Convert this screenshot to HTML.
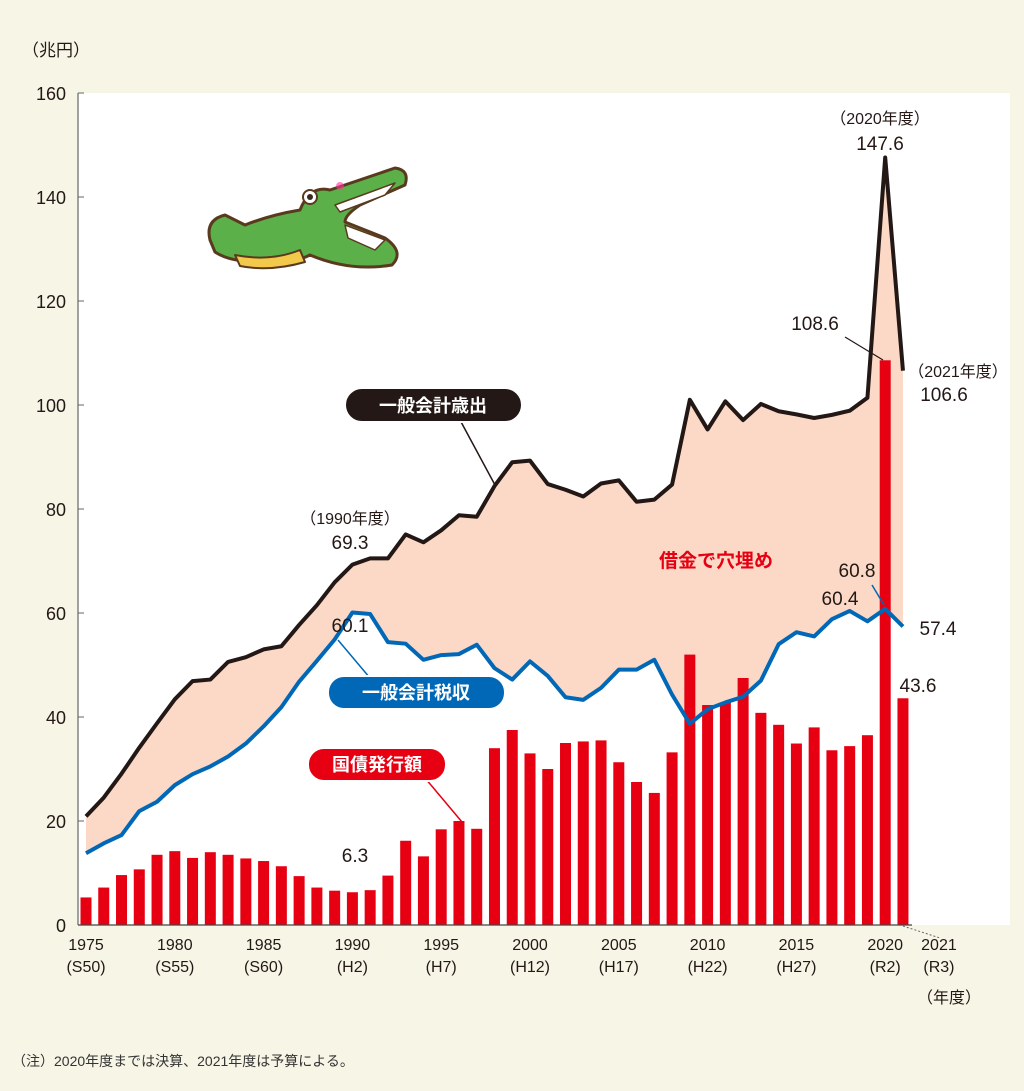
<!DOCTYPE html>
<html><head><meta charset="utf-8"><style>
body{margin:0;background:#f6f5e6;}
svg text{font-family:"Liberation Sans","Noto Sans CJK JP",sans-serif;}
</style></head><body>
<svg id="c" width="1024" height="1086" viewBox="0 0 1024 1086" xmlns="http://www.w3.org/2000/svg">
<rect x="0" y="0" width="1024" height="1086" fill="#f6f5e6"/>
<rect x="78" y="93" width="932" height="832" fill="#ffffff"/>
<g id="g"></g>
</svg>
<script>
const years=[];for(let y=1975;y<=2021;y++)years.push(y);
const spending=[20.9,24.5,29.1,34.1,38.8,43.4,46.9,47.2,50.6,51.5,53.0,53.6,57.7,61.5,65.9,69.3,70.5,70.5,75.1,73.6,75.9,78.8,78.5,84.4,89.0,89.3,84.8,83.7,82.4,84.9,85.5,81.4,81.8,84.7,101.0,95.3,100.7,97.1,100.2,98.8,98.2,97.5,98.1,98.9,101.4,147.6,106.6];
const taxes=[13.8,15.7,17.3,21.9,23.7,26.9,29.0,30.5,32.4,34.9,38.2,41.9,46.8,50.8,54.9,60.1,59.8,54.4,54.1,51.0,51.9,52.1,53.9,49.4,47.2,50.7,47.9,43.8,43.3,45.6,49.1,49.1,51.0,44.3,38.7,41.5,42.8,43.9,47.0,54.0,56.3,55.5,58.8,60.4,58.4,60.8,57.4];
const bonds=[5.3,7.2,9.6,10.7,13.5,14.2,12.9,14.0,13.5,12.8,12.3,11.3,9.4,7.2,6.6,6.3,6.7,9.5,16.2,13.2,18.4,20.0,18.5,34.0,37.5,33.0,30.0,35.0,35.3,35.5,31.3,27.5,25.4,33.2,52.0,42.3,42.8,47.5,40.8,38.5,34.9,38.0,33.6,34.4,36.5,108.6,43.6];
const yTicks=[0,20,40,60,80,100,120,140,160];
const xTickYears=[1975,1980,1985,1990,1995,2000,2005,2010,2015,2020,2021];
const xTickEra=["(S50)","(S55)","(S60)","(H2)","(H7)","(H12)","(H17)","(H22)","(H27)","(R2)","(R3)"];
const X=y=>86+(y-1975)*17.76;
const Y=v=>925-v*5.2;
const g=document.getElementById('g');
const NS="http://www.w3.org/2000/svg";
function mk(t,a,txt){const e=document.createElementNS(NS,t);for(const k in a)e.setAttribute(k,a[k]);if(txt!==undefined)e.textContent=txt;g.appendChild(e);return e;}
let d="";years.forEach((y,i)=>d+=(i?"L":"M")+X(y)+","+Y(spending[i]));
for(let i=years.length-1;i>=0;i--)d+="L"+X(years[i])+","+Y(taxes[i]);
let e=mk('path',{d:d+"Z",fill:"#fbd9c6"});


yTicks.forEach(v=>{let t=mk('text',{x:66,y:Y(v)+7,'text-anchor':'end','font-size':18,fill:'#231815'},String(v));


let l=mk('line',{x1:78,x2:84,y1:Y(v),y2:Y(v),stroke:'#666','stroke-width':1});

});
e=mk('line',{x1:78,x2:78,y1:93,y2:925,stroke:'#666','stroke-width':1.2});


years.forEach((y,i)=>{let b=mk('rect',{x:X(y)-5.5,y:Y(bonds[i]),width:11,height:bonds[i]*5.2,fill:'#e60012'});

});
e=mk('line',{x1:78,x2:912,y1:925,y2:925,stroke:'#444','stroke-width':1.2});


function line(arr,col,name){let p="";years.forEach((y,i)=>p+=(i?"L":"M")+X(y)+","+Y(arr[i]));
let l=mk('path',{d:p,fill:'none',stroke:col,'stroke-width':4,'stroke-linejoin':'round'});

}
line(spending,'#231815','spending-line');
line(taxes,'#0068b7','tax-line');
xTickYears.forEach((y,i)=>{let xx=X(y)+(y===2021?36:0);
let t=mk('text',{x:xx,y:950,'text-anchor':'middle','font-size':16,fill:'#231815'},String(y));


let t2=mk('text',{x:xx,y:972,'text-anchor':'middle','font-size':16,fill:'#231815'},xTickEra[i]);

});
e=mk('path',{d:"M"+X(2021)+",926 L940,938",stroke:'#666','stroke-dasharray':'2,2',fill:'none'});


</script>
<svg width="1024" height="1086" viewBox="0 0 1024 1086" style="position:absolute;left:0;top:0" xmlns="http://www.w3.org/2000/svg">
<g font-family="Liberation Sans,Noto Sans CJK JP,sans-serif" fill="#231815">
<text x="22" y="56" font-size="17">（兆円）</text>
<text x="917" y="1003" font-size="16">（年度）</text>
<text x="12" y="1066" font-size="14" fill="#333">（注）2020年度までは決算、2021年度は予算による。</text>
<text x="880" y="124" font-size="16" text-anchor="middle">（2020年度）</text>
<text x="880" y="150" font-size="19" text-anchor="middle">147.6</text>
<text x="958" y="377" font-size="16" text-anchor="middle">（2021年度）</text>
<text x="944" y="401" font-size="19" text-anchor="middle">106.6</text>
<text x="815" y="330" font-size="19" text-anchor="middle">108.6</text>
<line x1="845" y1="337" x2="883" y2="360" stroke="#231815" stroke-width="1.2"/>
<text x="350" y="524" font-size="16" text-anchor="middle">（1990年度）</text>
<text x="350" y="549" font-size="19" text-anchor="middle">69.3</text>
<text x="350" y="632" font-size="19" text-anchor="middle">60.1</text>
<text x="857" y="577" font-size="19" text-anchor="middle">60.8</text>
<line x1="872" y1="585" x2="884" y2="605" stroke="#0068b7" stroke-width="1.5"/>
<text x="840" y="605" font-size="19" text-anchor="middle">60.4</text>
<text x="938" y="635" font-size="19" text-anchor="middle">57.4</text>
<text x="918" y="692" font-size="19" text-anchor="middle">43.6</text>
<text x="355" y="862" font-size="19" text-anchor="middle">6.3</text>
<text x="716" y="567" font-size="19" font-weight="bold" fill="#e60012" text-anchor="middle">借金で穴埋め</text>
<line x1="460" y1="420" x2="495" y2="485" stroke="#231815" stroke-width="1.5"/>
<rect x="345" y="388" width="177" height="34" rx="17" fill="#231815" stroke="#fff" stroke-width="2"/>
<text x="433" y="412" font-size="18" font-weight="bold" fill="#fff" text-anchor="middle">一般会計歳出</text>
<line x1="370" y1="678" x2="338" y2="640" stroke="#0068b7" stroke-width="1.5"/>
<rect x="328" y="676" width="177" height="33" rx="16" fill="#0068b7" stroke="#fff" stroke-width="2"/>
<text x="416" y="699" font-size="18" font-weight="bold" fill="#fff" text-anchor="middle">一般会計税収</text>
<line x1="420" y1="772" x2="462" y2="822" stroke="#e60012" stroke-width="1.5"/>
<rect x="308" y="748" width="138" height="33" rx="16" fill="#e60012" stroke="#fff" stroke-width="2"/>
<text x="377" y="771" font-size="18" font-weight="bold" fill="#fff" text-anchor="middle">国債発行額</text>
</g>
<g stroke="#5a3a1e" stroke-width="3" stroke-linejoin="round">
<path d="M210,240 Q205,220 225,215 L245,225 Q270,215 300,210 Q310,185 330,190 L395,168 Q410,170 405,185 L360,205 Q345,215 345,222 L385,238 Q405,252 392,265 Q350,272 310,255 Q290,265 260,262 Q230,262 215,252 Z" fill="#5bb04a"/>
<path d="M335,205 L395,183 L385,195 L340,212 Z" fill="#fff" stroke-width="1.5"/>
<path d="M345,225 L385,240 L375,250 L348,238 Z" fill="#fff" stroke-width="1.5"/>
<path d="M235,255 Q270,262 300,250 L305,262 Q270,272 240,266 Z" fill="#f3c94b" stroke-width="2"/>
<circle cx="310" cy="197" r="7" fill="#fff" stroke-width="2"/>
<circle cx="310" cy="197" r="3" fill="#3a2a1a" stroke="none"/>
<circle cx="340" cy="186" r="4" fill="#f39" stroke="none" opacity="0.6"/>
</g>
</svg>
</body></html>
